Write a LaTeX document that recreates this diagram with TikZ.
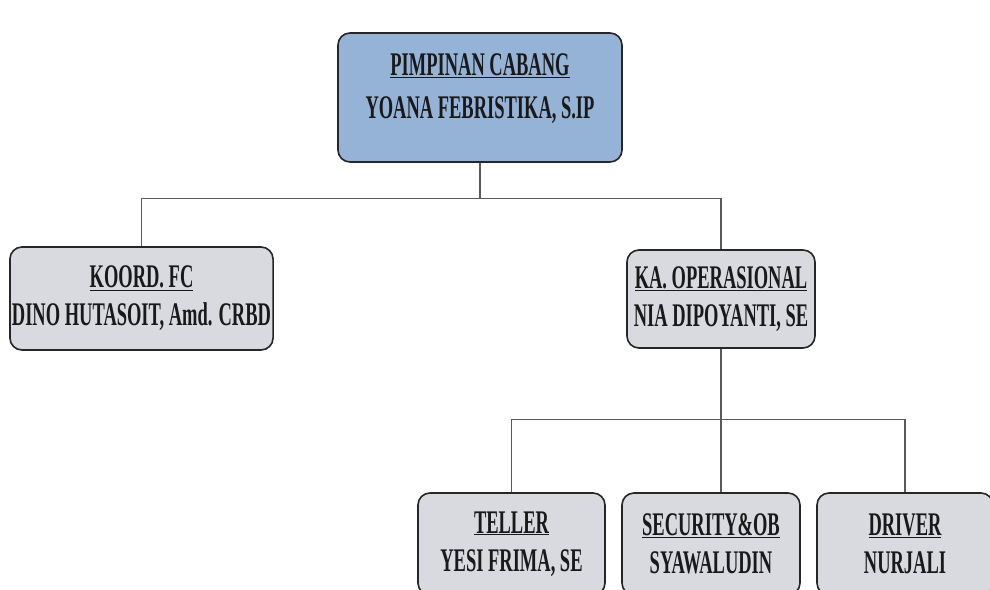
\documentclass[tikz,border=0pt]{standalone}
\usepackage{fontspec}
\newfontfamily\orgfont[FakeStretch=0.56]{Liberation Serif}
\definecolor{headblue}{HTML}{95B3D7}
\definecolor{staffgray}{HTML}{D9DAE0}
\definecolor{linkgray}{HTML}{5A5A5A}

\tikzset{
  orgbox/.style={draw=black!85, line width=1.6pt, rounded corners=12pt,
    align=center, inner sep=2pt, text=black!90,
    font=\orgfont\bfseries\fontsize{33}{38}\selectfont},
  headbox/.style={orgbox, fill=headblue},
  staffbox/.style={orgbox, fill=staffgray},
  link/.style={draw=linkgray, line width=1.3pt}
}

\begin{document}
\begin{tikzpicture}[x=1pt, y=-1pt]
\clip (0,0) rectangle (990,589);
\fill[white] (0,0) rectangle (990,589);

% pimpinan
\node[headbox, minimum width=284pt, minimum height=129pt, text depth=23pt] (pimpinan) at (480,97.5)
  {\underline{PIMPINAN CABANG}\\[5pt] YOANA FEBRISTIKA, S.IP};

% level 2
\node[staffbox, minimum width=263pt, minimum height=103pt] (koord) at (141.5,298.5)
  {\underline{KOORD. FC}\\ DINO HUTASOIT, Amd. CRBD};
\node[staffbox, minimum width=188pt, minimum height=98pt] (kaops) at (721,299)
  {\underline{KA. OPERASIONAL}\\ NIA DIPOYANTI, SE};

% level 3
\node[staffbox, minimum width=187pt, minimum height=102pt] (teller) at (511.5,544)
  {\underline{TELLER}\\ YESI FRIMA, SE};
\node[staffbox, minimum width=178pt, minimum height=102pt] (security) at (711,544)
  {\underline{SECURITY\&OB}\\ SYAWALUDIN};
\node[staffbox, minimum width=176pt, minimum height=102pt] (driver) at (905,544)
  {\underline{DRIVER}\\ NURJALI};

% connectors
\draw[link] (pimpinan.south) -- ++(0,36) coordinate (j1);
\draw[link] (j1) -| (koord.north);
\draw[link] (j1) -| (kaops.north);
\draw[link] (kaops.south) -- (kaops.south |- security.north);
\draw[link] (teller.north) -- ++(0,-73) -| (driver.north);
\end{tikzpicture}
\end{document}
